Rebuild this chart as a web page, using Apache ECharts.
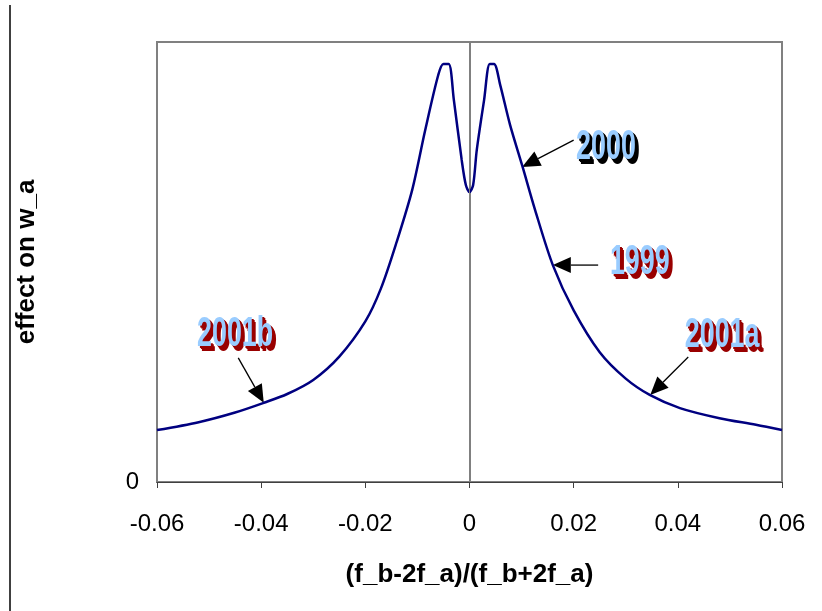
<!DOCTYPE html>
<html>
<head>
<meta charset="utf-8">
<script src="https://cdn.jsdelivr.net/npm/echarts@6/dist/echarts.min.js"></script>
<style>html,body{margin:0;padding:0;background:#fff;}#c{width:822px;height:611px;}</style>
</head>
<body>
<div id="c"></div>
<script>
// Curve samples (x, effect)
var xValues = [-0.06,-0.052,-0.045,-0.0395,-0.035,-0.03,-0.025,-0.02,-0.017,-0.014,-0.011,-0.0085,-0.006,-0.005,-0.004,-0.003,-0.0015,-0.0007,0,
               0.0007,0.0014,0.0028,0.0039,0.0047,0.0059,0.0078,0.0101,0.0126,0.016,0.02,0.025,0.03,0.0346,0.0404,0.048,0.055,0.06];
var yValues = [0.118,0.136,0.158,0.180,0.200,0.232,0.285,0.365,0.440,0.545,0.664,0.800,0.925,0.950,0.950,0.868,0.732,0.675,0.659,
               0.675,0.755,0.868,0.950,0.950,0.902,0.811,0.720,0.618,0.493,0.390,0.295,0.235,0.198,0.168,0.145,0.130,0.118];
var xTicks = [-0.06,-0.04,-0.02,0,0.02,0.04,0.06];
var labels = ['2000','1999','2001a','2001b'];
var labelShadow = ['#000000','#990000','#990000','#990000'];
var labelAt = [[0.0262,0.761],[0.0327,0.50],[0.0485,0.332],[-0.045,0.336]];
var arrowTail = [[0.020,0.777],[0.0247,0.493],[0.042,0.284],[-0.0444,0.282]];
var arrowTip = [[0.0101,0.716],[0.016,0.493],[0.0347,0.198],[-0.0395,0.180]];

var data = xValues.map(function(x,i){return [x,yValues[i]];});
var chart = echarts.init(document.getElementById('c'));
var FONT = '"Liberation Sans", Arial, sans-serif';
chart.setOption({
  animation:false,
  backgroundColor:'#fff',
  grid:{left:157,right:40,top:42,bottom:129,show:true,borderColor:'#808080',borderWidth:2,backgroundColor:'transparent'},
  xAxis:{type:'value',min:-0.06,max:0.06,interval:0.02,
    name:'(f_b-2f_a)/(f_b+2f_a)',nameLocation:'middle',nameGap:80,
    nameTextStyle:{fontFamily:FONT,fontWeight:'bold',fontSize:26,color:'#000'},
    axisLine:{show:true,onZero:false,lineStyle:{color:'#404040',width:1}},
    axisTick:{show:true,inside:false,length:6,lineStyle:{color:'#404040'}},
    axisLabel:{fontFamily:FONT,fontSize:24,color:'#000',margin:30,
      formatter:function(v){return String(parseFloat(v.toFixed(2)));}},
    splitLine:{show:false}},
  yAxis:{type:'value',min:0,max:1,interval:1,
    name:'effect on w_a',nameLocation:'middle',nameGap:117,nameRotate:90,
    nameTextStyle:{fontFamily:FONT,fontWeight:'bold',fontSize:26,color:'#000'},
    axisLine:{show:true,lineStyle:{color:'#808080',width:2}},
    axisTick:{show:false},
    axisLabel:{fontFamily:FONT,fontSize:24,color:'#000',margin:18,padding:[6,0,0,0],
      formatter:function(v){return v===0?'0':'';}},
    splitLine:{show:false}},
  series:[{type:'line',data:data,smooth:0.3,symbol:'none',
    lineStyle:{color:'#000080',width:2.5},
    markLine:{silent:true,symbol:'none',label:{show:false},
      lineStyle:{color:'#808080',width:1,type:'solid'},data:[{xAxis:0}]}}]
});

function buildGraphics(){
  var els = [{type:'line',shape:{x1:10,y1:5,x2:10,y2:611},style:{stroke:'#404040',lineWidth:2}}];
  for(var i=0;i<labels.length;i++){
    var t = chart.convertToPixel({gridIndex:0}, arrowTail[i]);
    var p = chart.convertToPixel({gridIndex:0}, arrowTip[i]);
    var dx=p[0]-t[0], dy=p[1]-t[1], L=Math.sqrt(dx*dx+dy*dy), ux=dx/L, uy=dy/L;
    var hl=18, hw=8;
    var bx=p[0]-ux*hl, by=p[1]-uy*hl;
    els.push({type:'line',shape:{x1:t[0],y1:t[1],x2:bx,y2:by},style:{stroke:'#000',lineWidth:1.3}});
    els.push({type:'polygon',shape:{points:[[p[0],p[1]],[bx-uy*hw,by+ux*hw],[bx+uy*hw,by-ux*hw]]},style:{fill:'#000'}});
    var c = chart.convertToPixel({gridIndex:0}, labelAt[i]);
    var offs=[[4,5],[3,3.5],[2,2]];
    offs.forEach(function(o){
      els.push({type:'text',x:c[0]+o[0],y:c[1]+o[1],scaleX:0.64,
        style:{text:labels[i],fill:labelShadow[i],font:'bold 42px '+FONT,align:'center',verticalAlign:'middle'}});
    });
    els.push({type:'text',x:c[0],y:c[1],scaleX:0.64,
      style:{text:labels[i],fill:'#99CCFF',font:'bold 42px '+FONT,align:'center',verticalAlign:'middle'}});
  }
  chart.setOption({graphic:{elements:els}});
}
buildGraphics();
</script>
</body>
</html>
